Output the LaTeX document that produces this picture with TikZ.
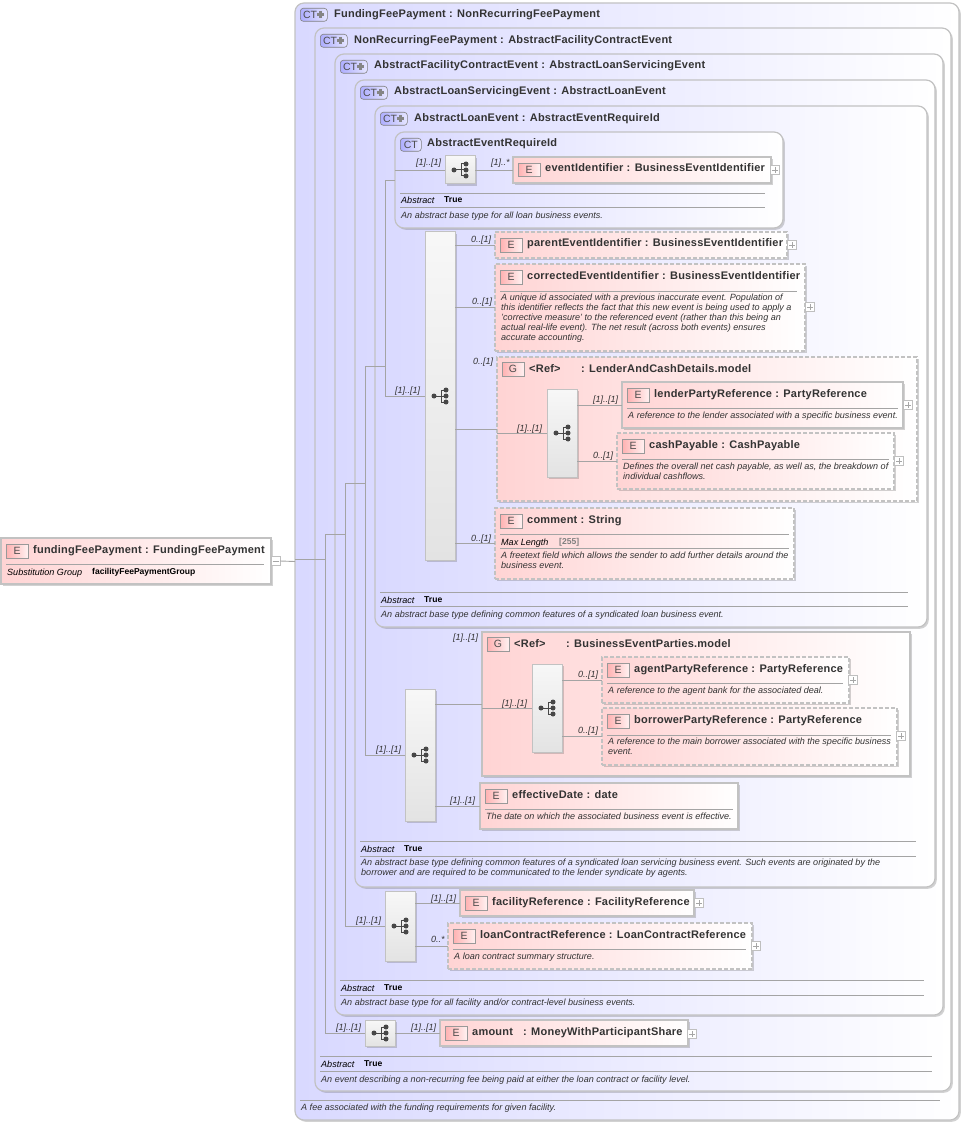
\documentclass[tikz,border=0pt]{standalone}
\usepackage{fontspec}
\setmainfont{Liberation Sans}
\usetikzlibrary{shadows}
\definecolor{rulegray}{HTML}{A4A4A4}
\definecolor{edgegray}{HTML}{C2C2C2}
\definecolor{inkgray}{HTML}{333333}
\newcounter{lblno}
\tikzset{
  x=1pt, y=-1pt,
  boxshadow/.style={drop shadow={shadow xshift=1.8pt,shadow yshift=-1.8pt,opacity=.25,fill=black!70}},
  blk/.style={anchor=north west,inner sep=0pt,outer sep=0pt,boxshadow},
  ctb/.style={blk,draw=edgegray,line width=1.2pt,rounded corners=9pt,left color=blue!15!white,right color=white},
  elb/.style={blk,draw=edgegray,line width=1.3pt,left color=red!17!white,right color=white},
  opt/.style={dash pattern=on 4pt off 2pt},
  seqb/.style={blk,draw=edgegray,line width=1pt,top color=gray!6,bottom color=gray!22},
  ebadge/.style={anchor=north west,inner sep=0pt,draw=black!40,line width=.6pt,left color=red!30!white,right color=red!6!white,
    minimum width=21.5pt,minimum height=13.5pt,text=black!70,font=\fontsize{10.5}{12}\selectfont},
  cbadge/.style={anchor=north west,inner sep=0pt,draw=black!50,line width=.6pt,rounded corners=3pt,left color=blue!32!white,right color=blue!10!white,
    minimum height=13pt,text=black!70,font=\fontsize{10.5}{12}\selectfont},
  ttl/.style={anchor=base west,inner sep=0pt,text=inkgray,font=\fontsize{11}{13}\selectfont\bfseries\addfontfeature{LetterSpace=2}},
  dsc/.style={anchor=north west,inner sep=0pt,align=left,text=inkgray,font=\fontsize{9.05}{10}\selectfont\itshape},
  key/.style={anchor=base west,inner sep=0pt,text=black,font=\fontsize{9.05}{10}\selectfont\itshape},
  val/.style={anchor=base west,inner sep=0pt,text=black,font=\fontsize{8.55}{10}\selectfont\bfseries},
  card/.style={anchor=base west,inner sep=0pt,text=inkgray,font=\fontsize{9}{10}\selectfont\itshape},
  conn/.style={draw=rulegray,line width=.9pt},
  pmb/.style={inner sep=0pt,outer sep=0pt,draw=black!25,line width=.6pt,fill=white,minimum size=9pt},
  hair/.style={draw=rulegray,line width=.9pt},
  pics/seqicon/.style={code={
    \fill[black!72] (-6,0) circle (2.5pt) (6,-6) circle (2.5pt) (6,0) circle (2.5pt) (6,6) circle (2.5pt);
    \draw[black!72,line width=1pt] (-6,0) -- (1,0) (6,-6) -- (1,-6) -- (1,6) -- (6,6) (1,0) -- (6,0);
  }}
}
% helpers: every block is given by its pixel corners
\newcommand{\ctbox}[5]{\node[ctb,minimum width={(#4-#2)*1pt},minimum height={(#5-#3)*1pt}] (#1) at (#2,#3) {};}
\newcommand{\txt}[4]{\stepcounter{lblno}\node[#1] (l\thelblno) at (#2,#3) {#4};}
\newcommand{\ctplus}[2]{\stepcounter{lblno}
  \node[cbadge,minimum width=27pt,text width=25pt,align=left] (l\thelblno) at (#1,#2) {\,CT};
  \draw[black!48,line width=2.4pt] (#1+20.5,#2+2.8) -- (#1+20.5,#2+10.2) (#1+16.8,#2+6.5) -- (#1+24.2,#2+6.5);}
\newcommand{\ebox}[7][]{\node[elb,#1,minimum width={(#5-#3)*1pt},minimum height={(#6-#4)*1pt}] (#2) at (#3,#4) {};
  \stepcounter{lblno}\node[ebadge] (l\thelblno) at (#3+5,#4+6) {E};
  \txt{ttl}{#3+32}{#4+15}{#7}}
\newcommand{\gbox}[7][]{\node[elb,#1,minimum width={(#5-#3)*1pt},minimum height={(#6-#4)*1pt}] (#2) at (#3,#4) {};
  \stepcounter{lblno}\node[ebadge] (l\thelblno) at (#3+5,#4+5) {G};
  \txt{ttl}{#3+32}{#4+15}{<Ref>}
  \txt{ttl}{#3+84}{#4+15}{: #7}}
\newcommand{\seqbox}[5]{\node[seqb,minimum width={(#4-#2)*1pt},minimum height={(#5-#3)*1pt}] (#1) at (#2,#3) {};
  \pic at (#1.center) {seqicon};}
\newcommand{\pmark}[3]{\node[pmb] (#1) at (#2,#3) {};
  \draw[black!35,line width=.6pt] (#2-3,#3) -- (#2+3,#3) (#2,#3-3) -- (#2,#3+3);}
\newcommand{\sepline}[3]{\draw[hair] (#1,#3) -- (#2,#3);}
\newcommand{\absfoot}[6]{\sepline{#1}{#2}{#3}\sepline{#1}{#2}{#4}
  \txt{key}{#1+1}{#3+11}{Abstract}\txt{val}{#1+44}{#3+10}{True}\txt{dsc}{#1+1}{#5}{#6}}
\begin{document}
\begin{tikzpicture}
\useasboundingbox (0,0) rectangle (963,1123);
\coordinate (b1) at (325,0);
\coordinate (b2) at (345,0);
\coordinate (b3) at (365,0);
\coordinate (b4) at (385,0);

% nested complex types
\ctbox{ct0}{295}{3}{959}{1120}
\ctplus{300}{8}
\txt{ttl}{334}{18}{FundingFeePayment : NonRecurringFeePayment}
\ctbox{ct1}{315}{28}{951}{1091}
\ctplus{320}{34}
\txt{ttl}{354}{44}{NonRecurringFeePayment : AbstractFacilityContractEvent}
\ctbox{ct2}{335}{54}{943}{1015}
\ctplus{340}{60}
\txt{ttl}{374}{69}{AbstractFacilityContractEvent : AbstractLoanServicingEvent}
\ctbox{ct3}{355}{80}{935}{887}
\ctplus{360}{86}
\txt{ttl}{394}{95}{AbstractLoanServicingEvent : AbstractLoanEvent}
\ctbox{ct4}{375}{106}{927}{627}
\ctplus{380}{112}
\txt{ttl}{414}{122}{AbstractLoanEvent : AbstractEventRequireId}
\ctbox{ct5}{395}{132}{783}{228}
\stepcounter{lblno}\node[cbadge,minimum width=21pt] (l\thelblno) at (400,138) {CT};
\txt{ttl}{427}{147}{AbstractEventRequireId}

% root element
\ebox{root}{1}{538}{271}{584}{fundingFeePayment : FundingFeePayment}
\sepline{6}{264}{564}
\txt{key}{7}{575}{Substitution Group}
\txt{val}{92}{574.5}{facilityFeePaymentGroup}
\node[pmb] (rootm) at (275.5,561) {};
\draw[black!35,line width=.6pt] (272.5,561) -- (278.5,561);

% AbstractEventRequireId
\seqbox{s0}{445}{156}{475}{184}
\ebox{eid}{513}{157}{771}{183}{eventIdentifier : BusinessEventIdentifier}
\pmark{peid}{775}{170}
\absfoot{400}{765}{193}{207}{212}{An abstract base type for all loan business events.}

% AbstractLoanEvent content
\seqbox{s1}{425}{232}{455}{560}
\ebox[opt]{par}{495}{232}{787}{258}{parentEventIdentifier : BusinessEventIdentifier}
\pmark{ppar}{792}{245}
\ebox[opt]{cor}{495}{264}{805}{351}{correctedEventIdentifier : BusinessEventIdentifier}
\sepline{500}{797}{291}
\txt{dsc}{501}{294}{A unique id associated with a previous inaccurate event. Population of\\this identifier reflects the fact that this new event is being used to apply a\\'corrective measure' to the referenced event (rather than this being an\\actual real-life event). The net result (across both events) ensures\\accurate accounting.}
\pmark{pcor}{810}{307}
\gbox[opt,line width=1.8pt]{g1}{497}{357}{917}{501}{LenderAndCashDetails.model}
\seqbox{s2}{547}{389}{577}{477}
\ebox{len}{622}{382}{903}{428}{lenderPartyReference : PartyReference}
\sepline{627}{898}{408}
\txt{dsc}{628}{412}{A reference to the lender associated with a specific business event.}
\pmark{plen}{908}{405}
\ebox[opt]{cash}{617}{433}{894}{489}{cashPayable : CashPayable}
\sepline{622}{889}{459}
\txt{dsc}{623}{463}{Defines the overall net cash payable, as well as, the breakdown of\\individual cashflows.}
\pmark{pcash}{899}{461}
\ebox[opt]{com}{495}{508}{794}{579}{comment : String}
\sepline{500}{789}{534}
\txt{key}{501}{545}{Max Length}
\txt{val,text=gray}{559}{544}{[255]}
\sepline{500}{789}{548}
\txt{dsc}{501}{552}{A freetext field which allows the sender to add further details around the\\business event.}
\absfoot{380}{908}{592}{606}{611}{An abstract base type defining common features of a syndicated loan business event.}

% AbstractLoanServicingEvent content
\seqbox{s3}{405}{689}{435}{821}
\gbox{g2}{482}{632}{910}{776}{BusinessEventParties.model}
\seqbox{s4}{532}{664}{562}{752}
\ebox[opt]{agt}{602}{657}{849}{703}{agentPartyReference : PartyReference}
\sepline{607}{843}{683}
\txt{dsc}{608}{687}{A reference to the agent bank for the associated deal.}
\pmark{pagt}{853}{680}
\ebox[opt]{bor}{602}{708}{897}{765}{borrowerPartyReference : PartyReference}
\sepline{607}{891}{735}
\txt{dsc}{608}{738}{A reference to the main borrower associated with the specific business\\event.}
\pmark{pbor}{901}{736}
\ebox{eff}{480}{783}{738}{829}{effectiveDate : date}
\sepline{485}{733}{809}
\txt{dsc}{486}{813}{The date on which the associated business event is effective.}
\absfoot{360}{916}{841}{856}{859}{An abstract base type defining common features of a syndicated loan servicing business event. Such events are originated by the\\borrower and are required to be communicated to the lender syndicate by agents.}

% AbstractFacilityContractEvent content
\seqbox{s5}{385}{891}{415}{961}
\ebox{fac}{460}{890}{694}{916}{facilityReference : FacilityReference}
\pmark{pfac}{699}{903}
\ebox[opt]{loan}{448}{923}{752}{969}{loanContractReference : LoanContractReference}
\sepline{453}{746}{949}
\txt{dsc}{454}{953}{A loan contract summary structure.}
\pmark{ploan}{756}{946}
\absfoot{340}{924}{980}{995}{999}{An abstract base type for all facility and/or contract-level business events.}

% NonRecurringFeePayment content
\seqbox{s6}{365}{1020}{395}{1046}
\ebox{amt}{440}{1020}{688}{1046}{amount}
\txt{ttl}{523}{1035}{: MoneyWithParticipantShare}
\pmark{pamt}{692}{1034}
\absfoot{320}{932}{1056}{1071}{1076}{An event describing a non-recurring fee being paid at either the loan contract or facility level.}

% FundingFeePayment content
\sepline{300}{940}{1100}
\txt{dsc}{301}{1104}{A fee associated with the funding requirements for given facility.}

% connectors
\draw[conn] (rootm.east) -- (ct0.west);
\draw[conn] (ct0.west |- ct1.west) -- (b1 |- ct1.west);
\draw[conn] (b1 |- ct2.west) -- (b1 |- s6.west) -- (s6.west);
\draw[conn] (s6.east) -- (amt.west);
\draw[conn] (b1 |- ct2.west) -- (b2 |- ct2.west);
\draw[conn] (b2 |- ct3.west) -- (b2 |- s5.west) -- (s5.west);
\draw[conn] (s5.east |- fac.west) -- (fac.west);
\draw[conn] (s5.east |- loan.west) -- (loan.west);
\draw[conn] (b2 |- ct3.west) -- (b3 |- ct3.west);
\draw[conn] (b3 |- ct4.west) -- (b3 |- s3.west) -- (s3.west);
\draw[conn] (s3.east |- g2.west) -- (g2.west);
\draw[conn] (g2.west |- s4.west) -- (s4.west);
\draw[conn] (s4.east |- agt.west) -- (agt.west);
\draw[conn] (s4.east |- bor.west) -- (bor.west);
\draw[conn] (s3.east |- eff.west) -- (eff.west);
\draw[conn] (b3 |- ct4.west) -- (b4 |- ct4.west);
\draw[conn] (ct5.west) -- (b4 |- ct5.west) -- (b4 |- s1.west) -- (s1.west);
\draw[conn] (ct5.west |- s0.west) -- (s0.west);
\draw[conn] (s0.east) -- (eid.west);
\draw[conn] (s1.east |- par.west) -- (par.west);
\draw[conn] (s1.east |- cor.west) -- (cor.west);
\draw[conn] (s1.east |- g1.west) -- (g1.west);
\draw[conn] (s1.east |- com.west) -- (com.west);
\draw[conn] (g1.west |- s2.west) -- (s2.west);
\draw[conn] (s2.east |- len.west) -- (len.west);
\draw[conn] (s2.east |- cash.west) -- (cash.west);

% occurrence labels
\txt{card}{416}{166}{[1]..[1]}
\txt{card}{491}{166}{[1]..*}
\txt{card}{395}{393}{[1]..[1]}
\txt{card}{471}{242}{0..[1]}
\txt{card}{472}{304}{0..[1]}
\txt{card}{473}{364}{0..[1]}
\txt{card}{471}{541}{0..[1]}
\txt{card}{517}{431}{[1]..[1]}
\txt{card}{593}{402}{[1]..[1]}
\txt{card}{593}{458}{0..[1]}
\txt{card}{453}{640}{[1]..[1]}
\txt{card}{376}{752}{[1]..[1]}
\txt{card}{502}{706}{[1]..[1]}
\txt{card}{578}{677}{0..[1]}
\txt{card}{578}{733}{0..[1]}
\txt{card}{450}{803}{[1]..[1]}
\txt{card}{356}{923}{[1]..[1]}
\txt{card}{431}{901}{[1]..[1]}
\txt{card}{431}{942}{0..*}
\txt{card}{336}{1030}{[1]..[1]}
\txt{card}{411}{1030}{[1]..[1]}
\end{tikzpicture}
\end{document}
